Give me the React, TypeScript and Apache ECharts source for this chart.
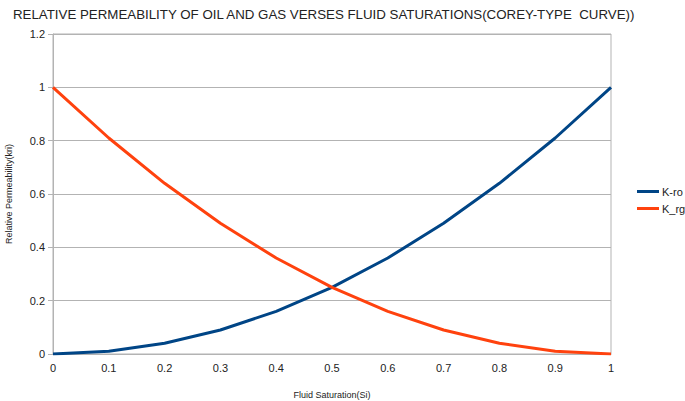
import React, { useEffect, useRef } from "react";
import * as echarts from "echarts";

const saturation = [0, 0.1, 0.2, 0.3, 0.4, 0.5, 0.6, 0.7, 0.8, 0.9, 1];
const kro = [0, 0.01, 0.04, 0.09, 0.16, 0.25, 0.36, 0.49, 0.64, 0.81, 1];
const krg = [1, 0.81, 0.64, 0.49, 0.36, 0.25, 0.16, 0.09, 0.04, 0.01, 0];
const seriesNames = ["K-ro", "K_rg"];

export default function App() {
  const ref = useRef<HTMLDivElement>(null);
  useEffect(() => {
    document.body.style.margin = "0";
    const chart = echarts.init(ref.current!, null, { renderer: "svg" });
    const font = "Liberation Sans, Arial, sans-serif";
    chart.setOption({
      animation: false,
      backgroundColor: "#fff",
      title: {
        text: "RELATIVE PERMEABILITY OF OIL AND GAS VERSES FLUID SATURATIONS(COREY-TYPE  CURVE))",
        left: 8,
        top: 3,
        textStyle: { fontFamily: font, fontSize: 13.3, fontWeight: "normal", color: "#222" },
      },
      grid: {
        left: 53,
        right: 74,
        top: 34,
        bottom: 47,
        outerBoundsMode: "none",
        containLabel: false,
        show: true,
        borderColor: "#b3b3b3",
        borderWidth: 1,
      },
      legend: {
        orient: "vertical",
        left: 632,
        top: 181,
        itemWidth: 22,
        itemHeight: 3,
        itemGap: 6,
        icon: "rect",
        textStyle: { fontFamily: font, fontSize: 11, color: "#222", padding: [0, 0, 0, -2] },
        data: seriesNames,
      },
      xAxis: {
        type: "value",
        min: 0,
        max: 1,
        interval: 0.1,
        name: "Fluid Saturation(Si)",
        nameLocation: "middle",
        nameGap: 36,
        nameTextStyle: { fontFamily: font, fontSize: 9, color: "#222" },
        axisLine: { show: true, lineStyle: { color: "#b3b3b3" } },
        axisTick: { show: false },
        splitLine: { show: false },
        axisLabel: { fontFamily: font, fontSize: 11, color: "#222", margin: 8 },
      },
      yAxis: {
        type: "value",
        min: 0,
        max: 1.2,
        interval: 0.2,
        name: "Relative Permeability(kri)",
        nameLocation: "middle",
        nameGap: 40,
        nameTextStyle: { fontFamily: font, fontSize: 9, color: "#222" },
        axisLine: { show: true, lineStyle: { color: "#b3b3b3" } },
        axisTick: { show: true, length: 5, lineStyle: { color: "#b3b3b3" } },
        splitLine: { show: true, lineStyle: { color: "#b3b3b3" } },
        axisLabel: { fontFamily: font, fontSize: 11, color: "#222", margin: 8 },
      },
      series: [
        {
          name: seriesNames[0],
          type: "line",
          data: saturation.map((x, i) => [x, kro[i]]),
          showSymbol: false,
          lineStyle: { color: "#004586", width: 3 },
          itemStyle: { color: "#004586" },
        },
        {
          name: seriesNames[1],
          type: "line",
          data: saturation.map((x, i) => [x, krg[i]]),
          showSymbol: false,
          lineStyle: { color: "#ff420e", width: 3 },
          itemStyle: { color: "#ff420e" },
        },
      ],
    });
    return () => chart.dispose();
  }, []);
  return <div ref={ref} style={{ width: 685, height: 401 }} />;
}
